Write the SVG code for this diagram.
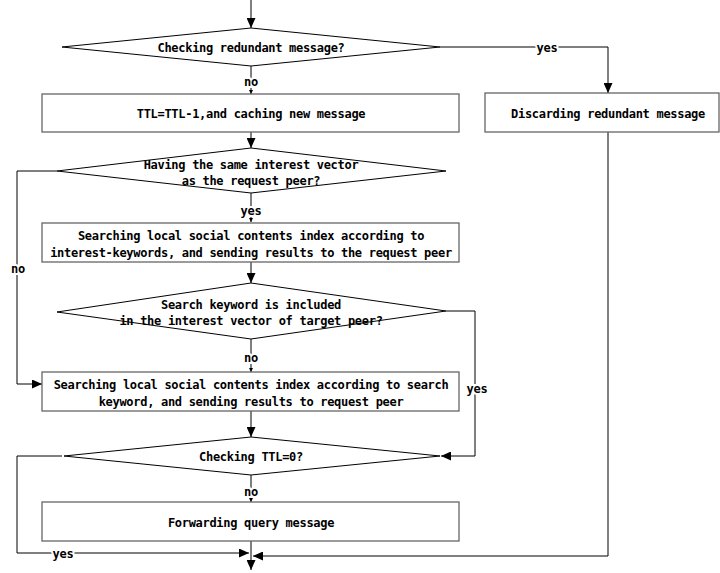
<svg xmlns="http://www.w3.org/2000/svg" width="720" height="573" viewBox="0 0 720 573">
<style>
.box{fill:#fff;stroke:#666;stroke-width:1.3}
.dia{fill:#fff;stroke:#000;stroke-width:1}
.t{font-family:"DejaVu Sans Mono","Liberation Mono",monospace;font-weight:bold;font-size:12px;letter-spacing:-0.3px;fill:#000;text-anchor:middle}
.lbl{font-family:"DejaVu Sans Mono","Liberation Mono",monospace;font-weight:bold;font-size:12px;letter-spacing:-0.3px;fill:#000;text-anchor:middle;stroke:#fff;stroke-width:4;paint-order:stroke}
.c{fill:none;stroke:#000;stroke-width:1}
</style>
<defs>
<marker id="ah" markerWidth="10" markerHeight="9" refX="10" refY="4.5" orient="auto" markerUnits="userSpaceOnUse"><path d="M0,0 L10,4.5 L0,9 z" fill="#000"/></marker>
<marker id="sm" markerWidth="4" markerHeight="4" refX="4" refY="2" orient="auto" markerUnits="userSpaceOnUse"><path d="M0,0 L4,2 L0,4 z" fill="#000"/></marker>
</defs>
<g id="connectors">
<path class="c" d="M251,0 V28" marker-end="url(#ah)"/>
<path class="c" d="M251,66 V94" marker-end="url(#sm)"/>
<path class="c" d="M440,47 H608 V93" marker-end="url(#ah)"/>
<path class="c" d="M608,132 V556 H253" marker-end="url(#ah)"/>
<path class="c" d="M251,132 V148" marker-end="url(#ah)"/>
<path class="c" d="M57,171 H17 V384 H42" marker-end="url(#ah)"/>
<path class="c" d="M251,193 V222" marker-end="url(#sm)"/>
<path class="c" d="M251,262 V283" marker-end="url(#ah)"/>
<path class="c" d="M446,311 H475 V456 H441" marker-end="url(#ah)"/>
<path class="c" d="M251,339 V372" marker-end="url(#sm)"/>
<path class="c" d="M251,411 V437" marker-end="url(#ah)"/>
<path class="c" d="M62,456 H17 V553 H249" marker-end="url(#ah)"/>
<path class="c" d="M251,475 V502" marker-end="url(#sm)"/>
<path class="c" d="M251,541 V556"/>
<path class="c" d="M251,556 V570" marker-end="url(#ah)"/>
<text class="lbl" x="547" y="52">yes</text>
<text class="lbl" x="251" y="86">no</text>
<text class="lbl" x="251" y="215">yes</text>
<text class="lbl" x="18" y="273">no</text>
<text class="lbl" x="251" y="362">no</text>
<text class="lbl" x="477" y="393">yes</text>
<text class="lbl" x="251" y="496">no</text>
<text class="lbl" x="63" y="558">yes</text>
</g>
<g id="d1"><polygon class="dia" points="62,47 251,28 440,47 251,66"/><text class="t" x="251" y="52">Checking redundant message?</text></g>
<g id="r1"><rect class="box" x="42" y="94" width="417" height="38"/><text class="t" x="251" y="118">TTL=TTL-1,and caching new message</text></g>
<g id="r5"><rect class="box" x="485" y="93" width="234" height="39"/><text class="t" x="608" y="118">Discarding redundant message</text></g>
<g id="d2"><polygon class="dia" points="57,171 251,148 446,171 251,193"/><text class="t" x="251" y="169">Having the same interest vector</text><text class="t" x="251" y="185">as the request peer?</text></g>
<g id="r2"><rect class="box" x="42" y="223" width="417" height="39"/><text class="t" x="251" y="240">Searching local social contents index according to</text><text class="t" x="251" y="257">interest-keywords, and sending results to the request peer</text></g>
<g id="d3"><polygon class="dia" points="57,312 251,283 446,311 251,339"/><text class="t" x="251" y="309">Search keyword is included</text><text class="t" x="251" y="325">in the interest vector of target peer?</text></g>
<g id="r3"><rect class="box" x="42" y="372" width="417" height="39"/><text class="t" x="251" y="389">Searching local social contents index according to search</text><text class="t" x="251" y="406">keyword, and sending results to request peer</text></g>
<g id="d4"><polygon class="dia" points="64,456 251,437 440,456 251,475"/><text class="t" x="251" y="461">Checking TTL=0?</text></g>
<g id="r4"><rect class="box" x="42" y="502" width="417" height="39"/><text class="t" x="251" y="527">Forwarding query message</text></g>
</svg>
